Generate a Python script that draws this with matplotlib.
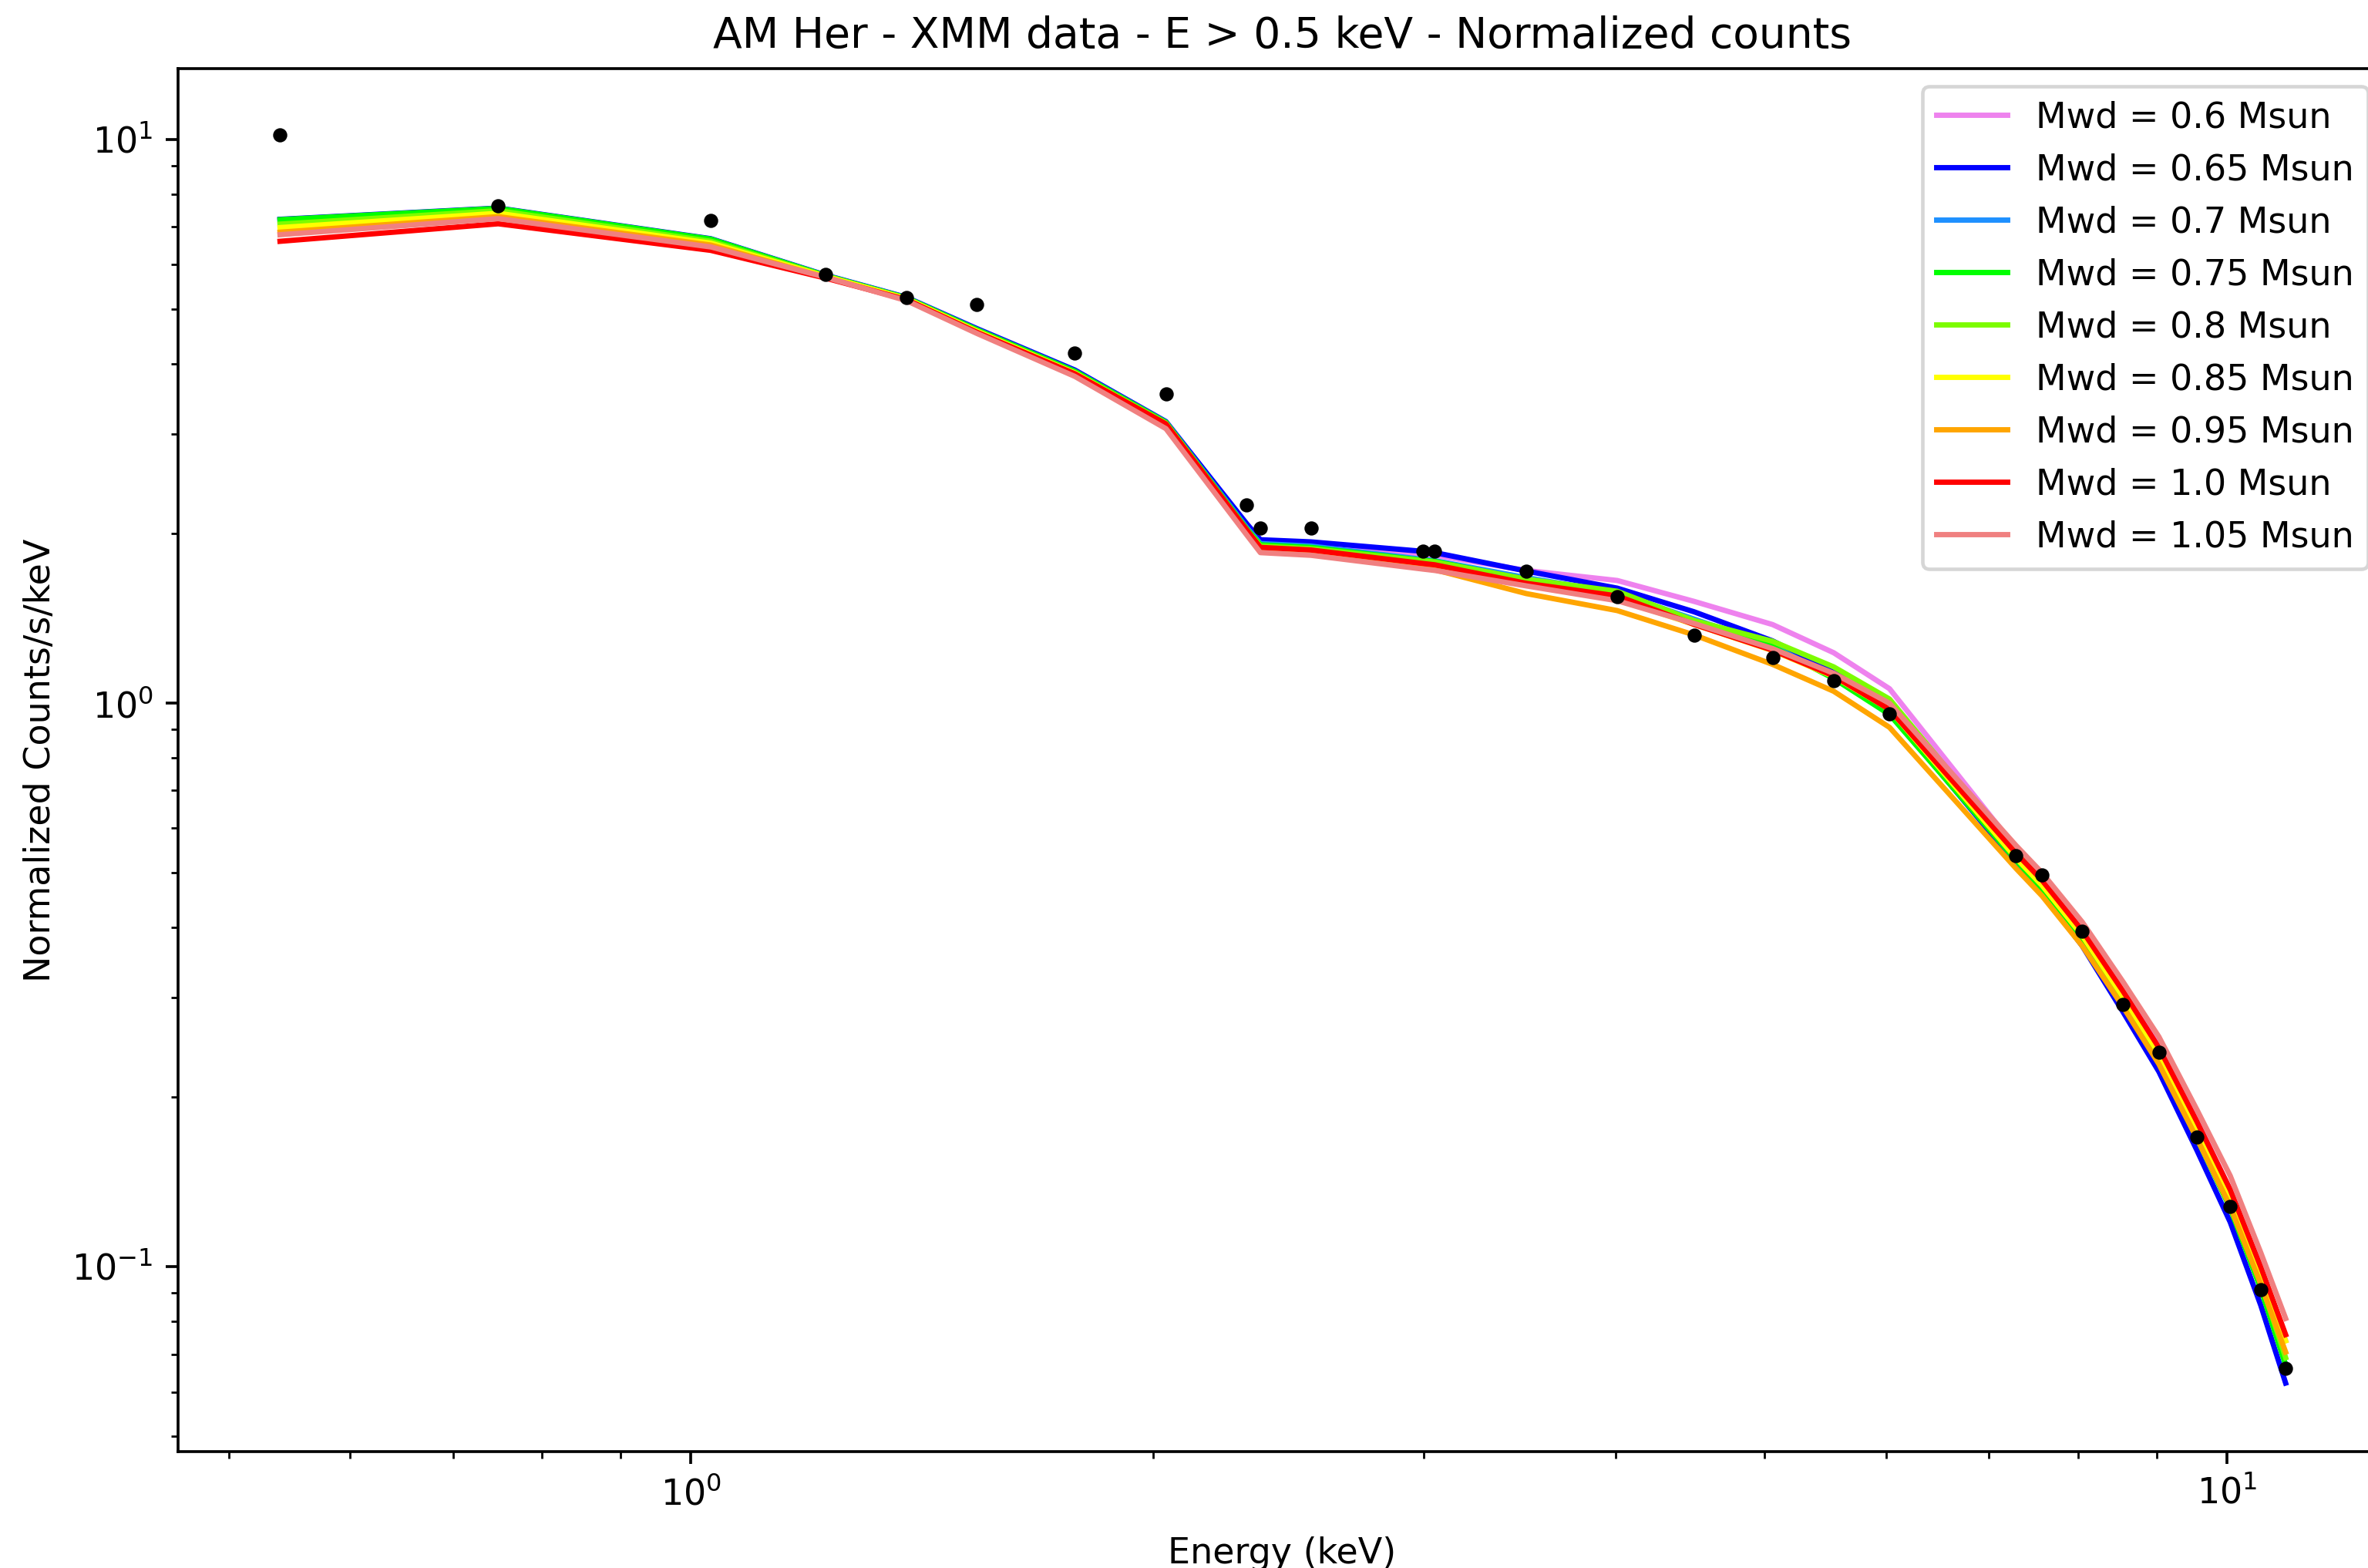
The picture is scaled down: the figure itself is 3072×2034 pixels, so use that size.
import matplotlib
matplotlib.use("Agg")
import matplotlib.pyplot as plt

# AM Her XMM spectrum (E > 0.5 keV) and models for several WD masses
energy = [0.540, 0.749, 1.030, 1.223, 1.381, 1.535, 1.778, 2.038, 2.300, 2.348,
          2.533, 2.995, 3.050, 3.498, 4.009, 4.498, 5.060, 5.546, 6.030, 7.290,
          7.580, 8.050, 8.560, 9.030, 9.560, 10.05, 10.52, 10.92]
counts = [10.19, 7.64, 7.18, 5.76, 5.25, 5.10, 4.18, 3.54, 2.247, 2.044,
          2.044, 1.860, 1.860, 1.716, 1.545, 1.322, 1.205, 1.095, 0.958, 0.537,
          0.496, 0.394, 0.292, 0.240, 0.170, 0.128, 0.091, 0.066]

masses = ['0.6', '0.65', '0.7', '0.75', '0.8', '0.85', '0.95', '1.0', '1.05']
colors = ['violet', 'blue', 'dodgerblue', 'lime', 'lawngreen', 'yellow',
          'orange', 'red', 'lightcoral']

m060 = [7.20, 7.53, 6.64, 5.73, 5.23, 4.60, 3.88, 3.15, 2.07, 1.94,
        1.91, 1.84, 1.83, 1.72, 1.651, 1.516, 1.379, 1.229, 1.061, 0.553,
        0.494, 0.401, 0.311, 0.248, 0.182, 0.137, 0.100, 0.074]
m065 = [7.22, 7.56, 6.67, 5.75, 5.25, 4.62, 3.90, 3.16, 2.083, 1.95,
        1.933, 1.86, 1.85, 1.716, 1.60, 1.453, 1.29, 1.14, 0.965, 0.520,
        0.461, 0.371, 0.283, 0.222, 0.161, 0.120, 0.0855, 0.0622]
m070 = [7.20, 7.54, 6.65, 5.74, 5.24, 4.60, 3.88, 3.15, 2.05, 1.92,
        1.90, 1.80, 1.79, 1.67, 1.57, 1.41, 1.265, 1.11, 0.960, 0.526,
        0.469, 0.380, 0.293, 0.232, 0.170, 0.128, 0.092, 0.067]
m075 = [7.21, 7.55, 6.66, 5.74, 5.24, 4.60, 3.88, 3.15, 2.04, 1.91,
        1.89, 1.793, 1.785, 1.657, 1.556, 1.40, 1.26, 1.106, 0.955, 0.526,
        0.468, 0.379, 0.292, 0.231, 0.169, 0.127, 0.0915, 0.067]
m080 = [7.08, 7.48, 6.60, 5.73, 5.23, 4.58, 3.86, 3.14, 2.03, 1.90,
        1.88, 1.79, 1.78, 1.66, 1.58, 1.402, 1.288, 1.160, 1.017, 0.545,
        0.482, 0.388, 0.298, 0.236, 0.173, 0.130, 0.094, 0.069]
m085 = [6.98, 7.40, 6.55, 5.72, 5.22, 4.57, 3.85, 3.12, 2.01, 1.88,
        1.85, 1.76, 1.75, 1.62, 1.53, 1.38, 1.24, 1.115, 0.975, 0.531,
        0.475, 0.387, 0.301, 0.239, 0.176, 0.1335, 0.0973, 0.0739]
m095 = [6.85, 7.30, 6.50, 5.70, 5.20, 4.55, 3.84, 3.11, 2.00, 1.87,
        1.84, 1.74, 1.725, 1.565, 1.46, 1.322, 1.172, 1.050, 0.906, 0.509,
        0.455, 0.371, 0.289, 0.229, 0.169, 0.128, 0.0932, 0.0706]
m100 = [6.60, 7.09, 6.36, 5.68, 5.20, 4.55, 3.84, 3.13, 2.03, 1.89,
        1.87, 1.77, 1.76, 1.632, 1.55, 1.38, 1.242, 1.118, 0.975, 0.542,
        0.485, 0.395, 0.308, 0.245, 0.181, 0.137, 0.100, 0.0758]
m105 = [6.78, 7.24, 6.45, 5.70, 5.18, 4.53, 3.80, 3.07, 1.99, 1.85,
        1.83, 1.73, 1.72, 1.615, 1.52, 1.385, 1.25, 1.13, 1.00, 0.559,
        0.500, 0.409, 0.320, 0.256, 0.190, 0.145, 0.106, 0.081]

models = [m060, m065, m070, m075, m080, m085, m095, m100, m105]

dpi = 331
fig = plt.figure(figsize=(3073 / dpi, 2034 / dpi), dpi=dpi)
# axes run a little past the right edge, as in the reference
ax = fig.add_axes([0.0752, 0.0742, 0.932, 0.882])

for m, mod, c in zip(masses, models, colors):
    ax.plot(energy, mod, color=c, label='Mwd = ' + m + ' Msun')
ax.plot(energy, counts, 'k.')

ax.set_xscale('log')
ax.set_yscale('log')
ax.set_xlim(0.4635, 12.69)
ax.set_ylim(0.047, 13.36)
ax.set_title('AM Her - XMM data - E > 0.5 keV - Normalized counts')
ax.set_xlabel('Energy (keV)', labelpad=7)
ax.set_ylabel('Normalized Counts/s/keV')
ax.legend(loc='upper right')

fig.savefig('out.png', dpi=dpi)
